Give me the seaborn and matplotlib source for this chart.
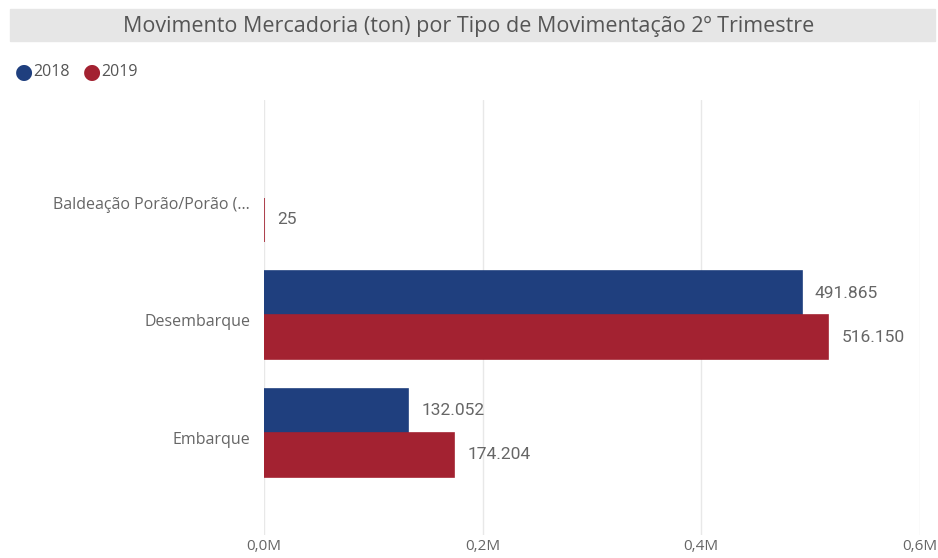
import matplotlib
matplotlib.use("Agg")
import matplotlib.pyplot as plt
import matplotlib.transforms as mtransforms
import seaborn as sns
import pandas as pd
import numpy as np
from matplotlib.ticker import FuncFormatter, MultipleLocator

categorias = ["Baldeação Porão/Porão (...", "Desembarque", "Embarque"]
anos = ["2018", "2019"]
valores_2018 = [np.nan, 491865, 132052]
valores_2019 = [25, 516150, 174204]
cores = {"2018": "#1F3F7E", "2019": "#A32231"}

df = pd.DataFrame({
    "Tipo": categorias * 2,
    "Ano": [anos[0]] * 3 + [anos[1]] * 3,
    "Toneladas": valores_2018 + valores_2019,
})

sns.set_style("white")
plt.rcParams["font.family"] = ["Open Sans", "DejaVu Sans"]

fig = plt.figure(figsize=(9.38, 5.58), dpi=100)
ax = fig.add_axes([0.2814, 0.041, 0.6994, 0.78])

sns.barplot(data=df, x="Toneladas", y="Tipo", hue="Ano", order=categorias,
            hue_order=anos, palette=cores, orient="h", width=0.75,
            saturation=1, linewidth=0, ax=ax, legend=False)

# contorno fino da mesma cor (deixa visível a barra de 25 t)
for cont, ano in zip(ax.containers, anos):
    for bar in cont:
        bar.set_edgecolor(cores[ano])
        bar.set_linewidth(1.2)

ax.set_xlim(0, 600000)
ax.set_ylim(2.87, -0.83)
ax.xaxis.set_major_locator(MultipleLocator(200000))
ax.xaxis.set_major_formatter(FuncFormatter(lambda v, p: f"{v/1e6:.1f}M".replace(".", ",")))
ax.grid(axis="x", color="#E8E8E8", linewidth=1)
ax.set_axisbelow(True)
for s in ax.spines.values():
    s.set_visible(False)
ax.set_xlabel("")
ax.set_ylabel("")
ax.tick_params(axis="x", length=0, labelsize=11, colors="#666666", pad=3)
ax.tick_params(axis="y", length=0, labelsize=11.5, colors="#666666", pad=10)
desloc = mtransforms.ScaledTranslation(0, -5 / 100, fig.dpi_scale_trans)
for lbl in ax.get_yticklabels():
    lbl.set_transform(lbl.get_transform() + desloc)

# rótulos de dados
for cont in ax.containers:
    for bar in cont:
        w = bar.get_width()
        if np.isnan(w):
            continue
        txt = f"{int(w):,}".replace(",", ".")
        ax.text(w + 12000, bar.get_y() + bar.get_height() / 2, txt,
                va="center", ha="left", fontsize=12.5, color="#666666",
                family=["Roboto", "DejaVu Sans"])

# faixa de título
fig.patches.append(plt.Rectangle((10 / 938, 1 - 41 / 558), 925 / 938, 32 / 558,
                                 transform=fig.transFigure, color="#E6E6E6", zorder=0))
fig.text(0.5, 1 - 26 / 558, "Movimento Mercadoria (ton) por Tipo de Movimentação 2º Trimestre",
         ha="center", va="center", fontsize=15.5, color="#555555")

# legenda
lx = [24, 92]
for x, ano in zip(lx, anos):
    fig.text(x / 938, 1 - 72 / 558, "●", color=cores[ano], fontsize=15,
             ha="center", va="center", family=["DejaVu Sans"])
    fig.text((x + 9) / 938, 1 - 72 / 558, ano, color="#555555", fontsize=11.5,
             ha="left", va="center")

fig.savefig("out.png", dpi=100)
plt.close()
